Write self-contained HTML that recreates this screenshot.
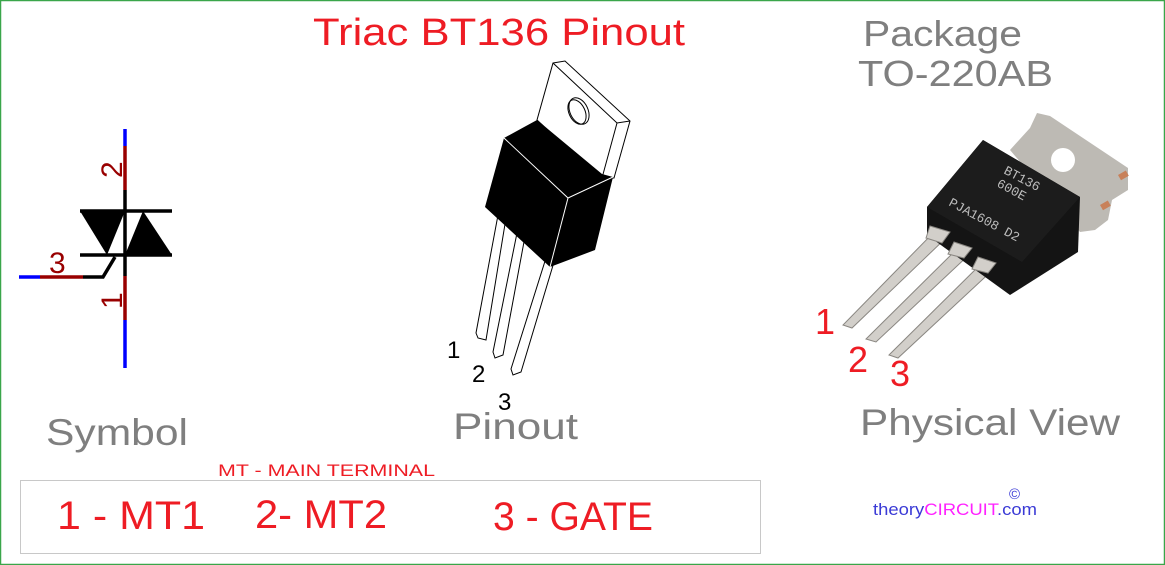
<!DOCTYPE html>
<html><head><meta charset="utf-8"><style>html,body{margin:0;padding:0;background:#fff}svg{display:block}</style></head>
<body>
<svg width="1165" height="565" viewBox="0 0 1165 565" xmlns="http://www.w3.org/2000/svg" font-family="Liberation Sans, sans-serif">
<rect x="0.5" y="0.5" width="1164" height="564" fill="#fff" stroke="#3aa64a" stroke-width="1.5"/>
<!-- titles -->
<text x="313" y="45" font-size="38" fill="#ee1c24" textLength="372" lengthAdjust="spacingAndGlyphs">Triac  BT136 Pinout</text>
<text x="863" y="46" font-size="36" fill="#7f7f7f" textLength="159" lengthAdjust="spacingAndGlyphs">Package</text>
<text x="858" y="86" font-size="36" fill="#7f7f7f" textLength="195" lengthAdjust="spacingAndGlyphs">TO-220AB</text>
<text x="46" y="445" font-size="37" fill="#7f7f7f" textLength="142" lengthAdjust="spacingAndGlyphs">Symbol</text>
<text x="453" y="439" font-size="37" fill="#7f7f7f" textLength="125" lengthAdjust="spacingAndGlyphs">Pinout</text>
<text x="860" y="435" font-size="37" fill="#7f7f7f" textLength="260" lengthAdjust="spacingAndGlyphs">Physical View</text>
<!-- symbol -->
<g stroke-width="3.5" fill="none">
<line x1="125" y1="129" x2="125" y2="146" stroke="#0000ff"/>
<line x1="125" y1="146" x2="125" y2="190" stroke="#990000"/>
<line x1="125" y1="190" x2="125" y2="276" stroke="#000"/>
<line x1="125" y1="276" x2="125" y2="320" stroke="#990000"/>
<line x1="125" y1="320" x2="125" y2="368" stroke="#0000ff"/>
<line x1="80" y1="211" x2="172" y2="211" stroke="#000"/>
<line x1="80" y1="255" x2="172" y2="255" stroke="#000"/>
<polyline points="115,257 103,277 83,277" stroke="#000"/>
<line x1="40" y1="277" x2="83" y2="277" stroke="#990000"/>
<line x1="19" y1="277" x2="40" y2="277" stroke="#0000ff"/>
</g>
<polygon points="80,211 125,211 107,255" fill="#000"/>
<polygon points="143,211 172,255 125,255" fill="#000"/>
<text transform="translate(122,178) rotate(-90)" font-size="30" fill="#990000">2</text>
<text transform="translate(122,309) rotate(-90)" font-size="30" fill="#990000">1</text>
<text x="49" y="273" font-size="30" fill="#990000">3</text>
<!-- pinout drawing -->
<g stroke="#000" stroke-width="1" fill="#fff">
<polygon points="498,215 506,218 486,340 478,338 476,333"/>
<polygon points="518,228 526,231 503,355 495,358 493,352"/>
<polygon points="546,258 554,262 521,372 513,375 511,369"/>
<polygon points="553,63 565,61 630,121 614,178 600,178 537,120"/>
<polyline points="553,63 617,123 630,121" fill="none"/>
<line x1="617" y1="123" x2="602" y2="178"/>
<ellipse cx="579" cy="111" rx="9" ry="14" transform="rotate(-25 579 111)"/>
<ellipse cx="577" cy="112" rx="8" ry="13" transform="rotate(-25 577 112)" fill="none"/>
</g>
<polygon points="537,120 504,138 485,207 550,267 595,250 613,177 602,174" fill="#000"/>
<polyline points="504,138 568,198 613,177" fill="none" stroke="#fff" stroke-width="1"/>
<line x1="568" y1="198" x2="550" y2="267" stroke="#fff" stroke-width="1"/>
<text x="447" y="358" font-size="24" fill="#000">1</text>
<text x="472" y="382" font-size="24" fill="#000">2</text>
<text x="498" y="410" font-size="24" fill="#000">3</text>
<!-- physical view -->
<polygon points="1010,150 1030,128 1037,113 1050,116 1128,168 1128,190 1112,200 1108,220 1095,230 1080,232" fill="#bdbab4"/>
<circle cx="1063" cy="160" r="12" fill="#fff"/>
<rect x="1118" y="175" width="9" height="6" fill="#c8815a" transform="rotate(-30 1118 175)"/>
<rect x="1100" y="205" width="9" height="6" fill="#c8815a" transform="rotate(-30 1100 205)"/>
<g stroke="#8a8782" stroke-width="1" fill="#d2cfca">
<polygon points="936,230 948,236 852,328 843,325"/>
<polygon points="961,245 973,251 876,342 866,339"/>
<polygon points="985,260 997,266 898,358 889,355"/>
</g>
<polygon points="927,207 983,140 1080,197 1078,252 1010,295 927,235" fill="#141414"/>
<polygon points="927,207 983,140 1080,197 1022,262" fill="#1c1c1c"/>
<g stroke="#8a8782" stroke-width="1" fill="#d2cfca">
<polygon points="930,226 950,232 942,243 926,238"/>
<polygon points="954,242 972,248 964,258 948,254"/>
<polygon points="978,257 996,263 988,273 972,269"/>
</g>
<g fill="#bdbdbd" font-size="13" font-family="Liberation Mono, monospace">
<text transform="translate(1003,173) rotate(28)">BT136</text>
<text transform="translate(996,186) rotate(28)">600E</text>
<text transform="translate(948,205) rotate(28)">PJA1608 D2</text>
</g>
<text x="815" y="334" font-size="36" fill="#ee1c24">1</text>
<text x="848" y="372" font-size="36" fill="#ee1c24">2</text>
<text x="890" y="386" font-size="36" fill="#ee1c24">3</text>
<!-- bottom -->
<text x="218" y="476" font-size="17" fill="#ee1c24" textLength="217" lengthAdjust="spacingAndGlyphs">MT - MAIN TERMINAL</text>
<rect x="20.5" y="480.5" width="740" height="73" fill="none" stroke="#c8c8c8" stroke-width="1"/>
<text x="57" y="529" font-size="40" fill="#ee1c24" textLength="148" lengthAdjust="spacingAndGlyphs">1 - MT1</text>
<text x="255" y="528" font-size="40" fill="#ee1c24" textLength="132" lengthAdjust="spacingAndGlyphs">2- MT2</text>
<text x="493" y="530" font-size="40" fill="#ee1c24" textLength="160" lengthAdjust="spacingAndGlyphs">3 - GATE</text>
<text x="873" y="515" font-size="17" textLength="164" lengthAdjust="spacingAndGlyphs"><tspan fill="#3b3bd6">theory</tspan><tspan fill="#ff22ff">CIRCUIT</tspan><tspan fill="#3b3bd6">.com</tspan></text>
<text x="1009" y="499" font-size="15" fill="#3b3bd6">©</text>
</svg>
</body></html>
